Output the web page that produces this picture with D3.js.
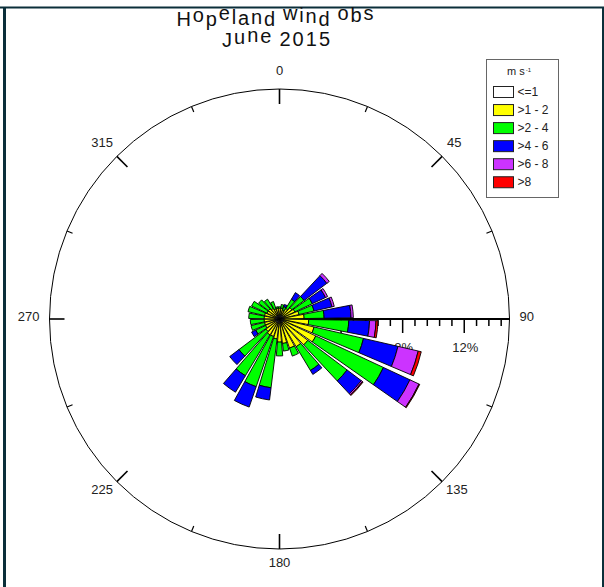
<!DOCTYPE html>
<html>
<head>
<meta charset="utf-8">
<script src="https://cdn.jsdelivr.net/npm/d3@7"></script>
<style>
  body { margin: 0; background: #fff; }
  text { font-family: Arial, "Liberation Sans", sans-serif; }
</style>
</head>
<body>
<div id="chart"></div>
<script>
// wind directions (degrees, sector centres)
const directions = [0, 12, 24, 36, 48, 60, 72, 84, 96, 108, 120, 132, 144, 156, 168,
                    180, 192, 204, 216, 228, 240, 252, 264, 276, 288, 300, 312, 324, 336, 348];

// frequency (%) per speed class and direction
const calm    = [0.3, 0.3, 0.3, 0.3, 0.3, 0.3, 0.3, 0.3, 0.3, 0.3, 0.3, 0.3, 0.3, 0.3, 0.3,
                 0.3, 0.3, 0.3, 0.3, 0.3, 0.3, 0.3, 0.3, 0.3, 0.3, 0.3, 0.3, 0.3, 0.3, 0.3];
const spd1to2 = [0.4, 0.4, 0.3, 0.5, 0.7, 0.8, 1.0, 1.3, 1.6, 2.0, 2.3, 2.0, 1.8, 1.7, 1.3,
                 1.2, 1.0, 0.9, 0.9, 0.8, 0.7, 0.7, 0.7, 0.7, 0.7, 0.6, 0.6, 0.5, 0.4, 0.4];
const spd2to4 = [0.1, 0.25, 0.25, 0.7, 1.0, 1.25, 1.0, 1.3, 2.6, 3.3, 4.85, 3.2, 1.8, 0.55, 0.5,
                 0.9, 3.2, 3.45, 3.1, 2.2, 0.7, 0.9, 0.9, 1.0, 1.1, 1.1, 0.8, 0.7, 0.5, 0.1];
const spd4to6 = [0, 0, 0.15, 0.5, 1.85, 0.95, 1.2, 1.75, 1.35, 2.3, 1.9, 1.15, 0.3, 0, 0,
                 0, 0.8, 1.4, 1.25, 0.75, 0.3, 0, 0, 0, 0, 0, 0, 0, 0, 0];
const spd6to8 = [0, 0, 0, 0, 0.2, 0.15, 0.15, 0.15, 0.42, 1.35, 0.65, 0.1, 0, 0, 0,
                 0, 0, 0, 0, 0, 0, 0, 0, 0, 0, 0, 0, 0, 0, 0];
const spdOver8 = [0, 0, 0, 0, 0, 0, 0, 0, 0.13, 0.2, 0.05, 0.05, 0, 0, 0,
                  0, 0, 0, 0, 0, 0, 0, 0, 0, 0, 0, 0, 0, 0, 0];

const classLabels = ['<=1', '>1 - 2', '>2 - 4', '>4 - 6', '>6 - 8', '>8'];
const classColors = ['#ffffff', '#ffff00', '#00ff00', '#0000ff', '#cc33ff', '#ff0000'];
const compassLabels = [0, 45, 90, 135, 180, 225, 270, 315];
const pctLabels = [8, 12];

const W = 604, H = 587;
const cx = 279.5, cy = 319, R = 230;
const maxPct = 14.94;

const svg = d3.select('#chart').append('svg')
    .attr('width', W)
    .attr('height', H);

// frame
const frameColor = '#0b2f3a';
svg.append('rect').attr('x', 0).attr('y', 6.5).attr('width', W).attr('height', 2).attr('fill', frameColor);
svg.append('rect').attr('x', 3).attr('y', 7).attr('width', 3).attr('height', H).attr('fill', frameColor);
svg.append('rect').attr('x', 602).attr('y', 7).attr('width', 2).attr('height', H).attr('fill', frameColor);

// title (the original draws its glyphs on a jittery baseline)
// [glyph, baseline offset, extra gap before]
const title1 = [['H', 0, 0], ['o', -3.3, 0], ['p', 0.7, 0], ['e', -5.3, 0], ['l', -2, 0], ['a', -1, 0],
                ['n', -2, 0], ['d', 0, 0], ['w', -5.3, 6], ['i', -3.3, 0], ['n', -2.7, 0], ['d', 0, 0],
                ['o', -5.3, 6], ['b', -3.3, 0], ['s', -5.3, 0]];
const title2 = [['J', 1.7, 0], ['u', -1.7, 0], ['n', -3.3, 0], ['e', -2.7, 0], ['2015', 0, 6]];

function titleLine(chars, x, baseY, len) {
    const t = svg.append('text')
        .attr('x', x)
        .attr('y', baseY)
        .attr('font-size', 20)
        .attr('fill', '#111');
    t.selectAll('tspan')
        .data(chars)
        .enter()
        .append('tspan')
        .attr('y', d => baseY + d[1])
        .attr('dx', d => d[2])
        .text(d => d[0]);
    t.attr('textLength', len).attr('lengthAdjust', 'spacing');
    return t;
}
titleLine(title1, 176.5, 25.5, 197);
titleLine(title2, 222, 45.5, 108);

const g = svg.append('g').attr('transform', `translate(${cx}, ${cy})`);

const rScale = d3.scaleLinear().domain([0, maxPct]).range([0, R]);

// outer circle
g.append('circle')
    .attr('r', R)
    .attr('fill', 'none')
    .attr('stroke', '#000')
    .attr('stroke-width', 1);

// compass ticks
const rad = a => a * Math.PI / 180;
const compassTicks = d3.range(0, 360, 22.5);
g.selectAll('.ctick')
    .data(compassTicks)
    .enter()
    .append('line')
    .attr('class', 'ctick')
    .attr('x1', d => R * Math.sin(rad(d)))
    .attr('y1', d => -R * Math.cos(rad(d)))
    .attr('x2', d => (R - (d % 45 === 0 ? 15 : 6)) * Math.sin(rad(d)))
    .attr('y2', d => -(R - (d % 45 === 0 ? 15 : 6)) * Math.cos(rad(d)))
    .attr('stroke', '#000')
    .attr('stroke-width', d => d % 45 === 0 ? 1.6 : 1.2);

// compass labels
const cl = g.selectAll('.clabel')
    .data(compassLabels)
    .enter()
    .append('text')
    .attr('class', 'clabel')
    .attr('font-size', 13)
    .attr('fill', '#222')
    .attr('text-anchor', 'middle')
    .attr('dominant-baseline', 'central')
    .text(d => d);
cl.each(function(d) {
    const w = this.getComputedTextLength();
    const s = Math.sin(rad(d)), c = Math.cos(rad(d));
    d3.select(this)
        .attr('x', 240 * s + s * w / 2)
        .attr('y', -240 * c - c * 6 - 3);
});

// radial axis along 90 degrees
g.append('line')
    .attr('x1', 0).attr('y1', 0)
    .attr('x2', R).attr('y2', 0)
    .attr('stroke', '#000')
    .attr('stroke-width', 2);

const rTicks = d3.range(0.8, maxPct, 0.8);
g.selectAll('.rtick')
    .data(rTicks)
    .enter()
    .append('line')
    .attr('class', 'rtick')
    .attr('x1', d => rScale(d))
    .attr('x2', d => rScale(d))
    .attr('y1', 0)
    .attr('y2', d => Math.round(d * 10) % 40 === 0 ? 14 : 7)
    .attr('stroke', '#000')
    .attr('stroke-width', 1.5);

g.selectAll('.rlabel')
    .data(pctLabels)
    .enter()
    .append('text')
    .attr('class', 'rlabel')
    .attr('x', d => rScale(d) + 1)
    .attr('y', 33)
    .attr('font-size', 13)
    .attr('fill', '#222')
    .attr('text-anchor', 'middle')
    .text(d => d + '%');

// stacked rose bars
const keys = ['c0', 'c1', 'c2', 'c3', 'c4', 'c5'];
const series = [calm, spd1to2, spd2to4, spd4to6, spd6to8, spdOver8];
const rows = directions.map((dir, i) => {
    const row = {dir: dir};
    keys.forEach((k, j) => row[k] = series[j][i]);
    return row;
});
const stacked = d3.stack().keys(keys)(rows);

const arc = d3.arc()
    .innerRadius(d => rScale(d[0]))
    .outerRadius(d => rScale(d[1]))
    .startAngle(d => rad(d.data.dir - 5))
    .endAngle(d => rad(d.data.dir + 5));

g.selectAll('.layer')
    .data(stacked)
    .enter()
    .append('g')
    .attr('class', 'layer')
    .attr('fill', (d, i) => classColors[i])
    .selectAll('path')
    .data(d => d.filter(p => p[1] - p[0] > 0))
    .enter()
    .append('path')
    .attr('d', arc)
    .attr('stroke', '#000')
    .attr('stroke-width', 0.9);

// legend
const legend = svg.append('g');
legend.append('rect')
    .attr('x', 486.5).attr('y', 59.5)
    .attr('width', 72).attr('height', 138)
    .attr('fill', '#fff')
    .attr('stroke', '#666')
    .attr('stroke-width', 1);

const lt = legend.append('text')
    .attr('x', 507)
    .attr('y', 75)
    .attr('font-size', 11)
    .attr('fill', '#222')
    .text('m s');
lt.append('tspan')
    .attr('font-size', 6)
    .attr('dy', -3)
    .attr('dx', 1)
    .text('-1');

const items = legend.selectAll('.item')
    .data(classLabels)
    .enter()
    .append('g')
    .attr('class', 'item')
    .attr('transform', (d, i) => `translate(493.5, ${86.5 + i * 18.05})`);
items.append('rect')
    .attr('width', 20).attr('height', 11)
    .attr('fill', (d, i) => classColors[i])
    .attr('stroke', '#222')
    .attr('stroke-width', 1);
items.append('text')
    .attr('x', 24)
    .attr('y', 5.5)
    .attr('dominant-baseline', 'central')
    .attr('font-size', 12)
    .attr('fill', '#222')
    .text(d => d);
</script>
</body>
</html>
